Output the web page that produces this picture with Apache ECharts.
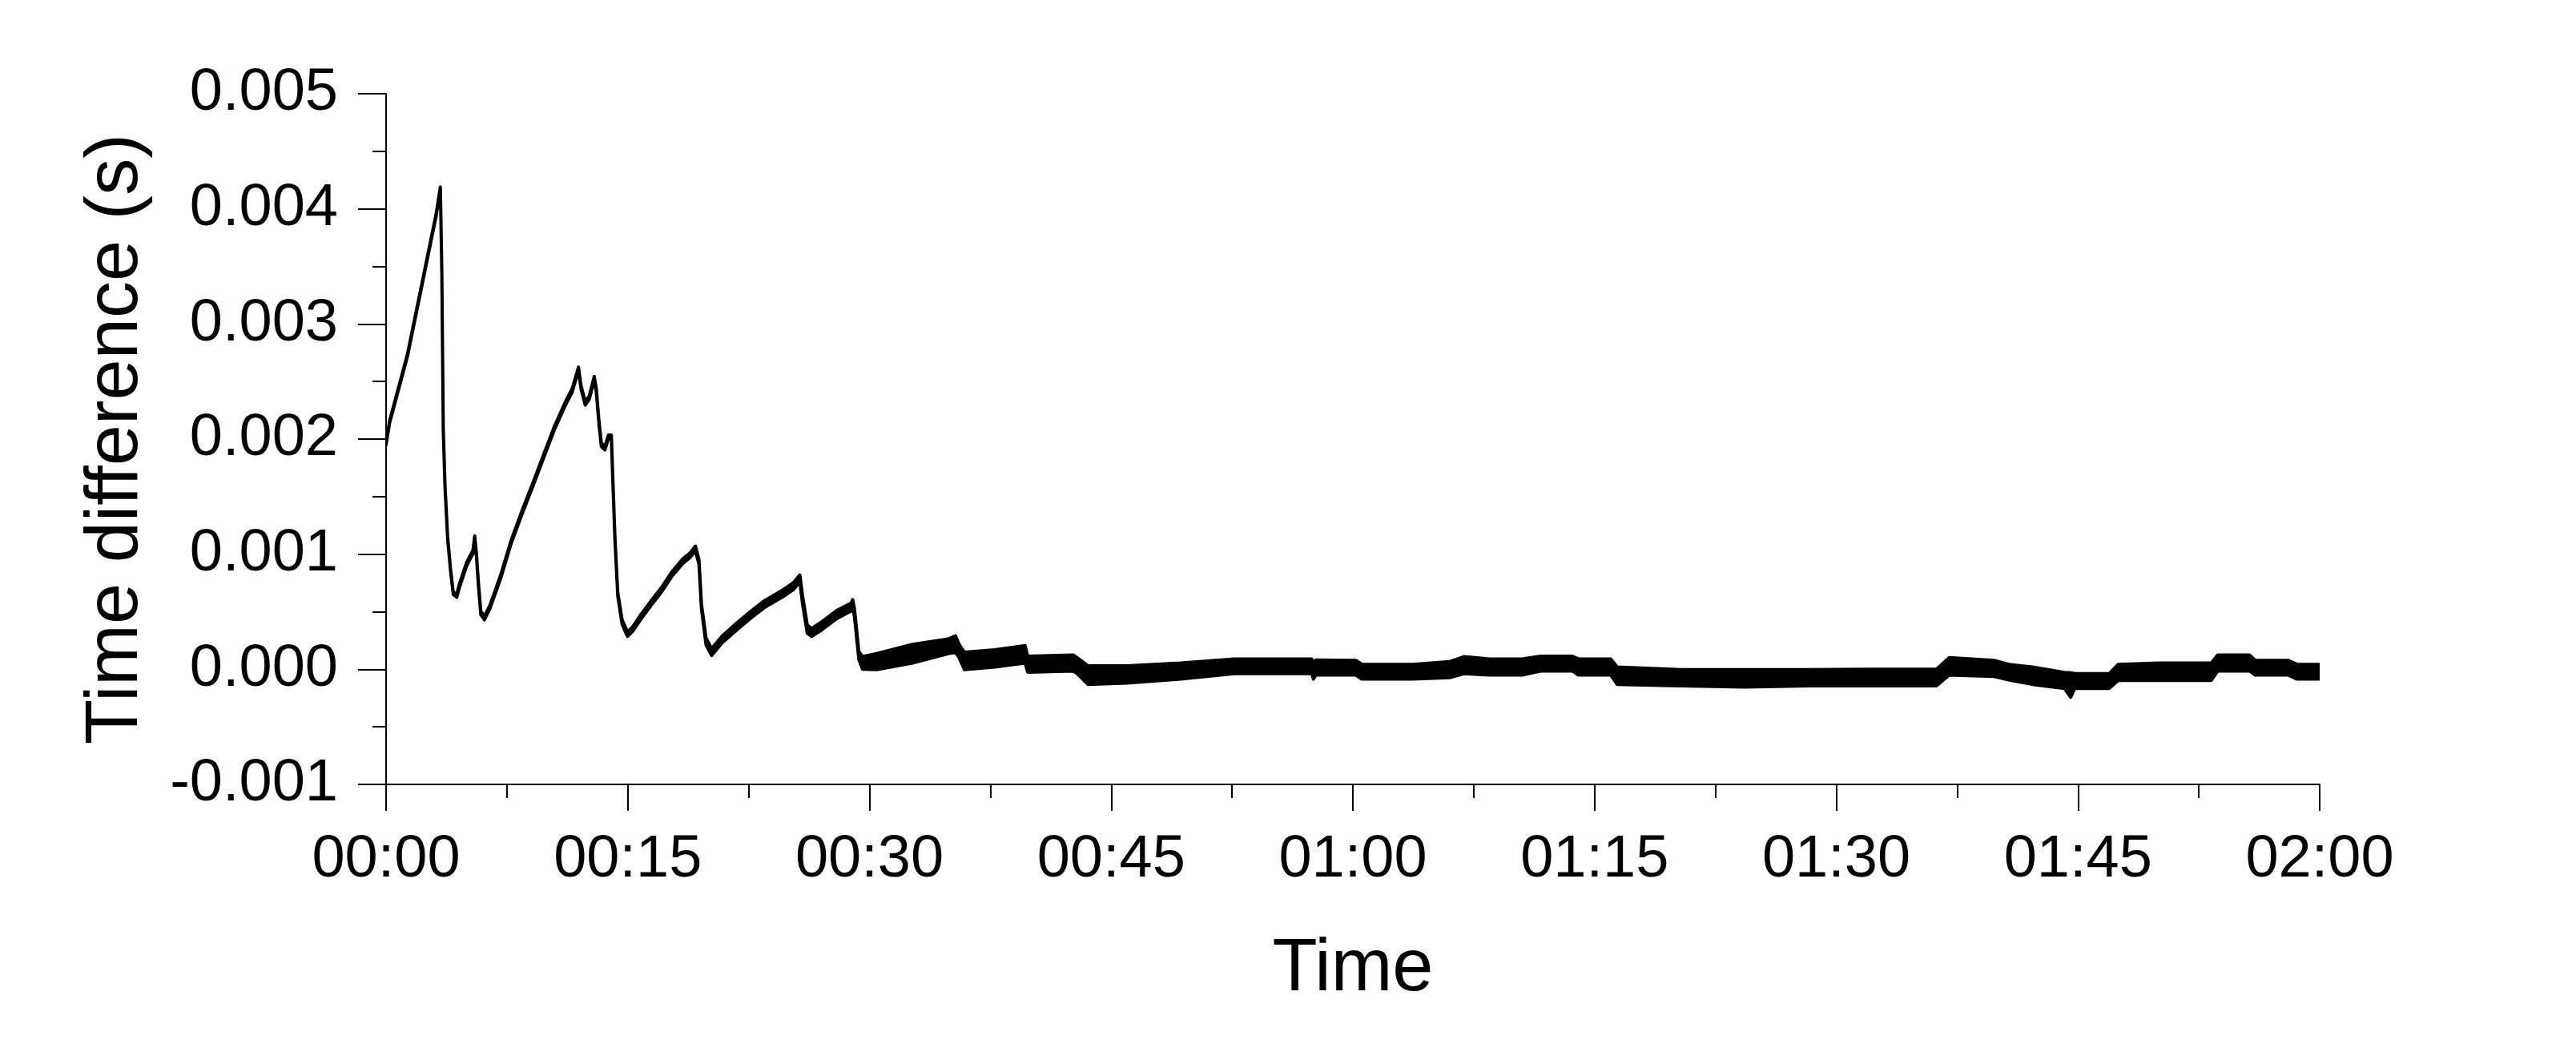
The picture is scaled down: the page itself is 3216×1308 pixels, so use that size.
<!DOCTYPE html>
<html>
<head>
<meta charset="utf-8">
<script src="https://cdn.jsdelivr.net/npm/echarts@6/dist/echarts.min.js"></script>
<style>
html,body{margin:0;padding:0;background:#fff;}
#chart{width:3216px;height:1308px;}
</style>
</head>
<body>
<div id="chart"></div>
<script>
// Time in minutes since start
const timeMin = [
  0.00, 0.22, 1.33, 2.44, 3.11, 3.37, 3.46, 3.55, 3.66, 3.82, 4.00, 4.17, 4.39, 4.55, 4.99, 5.39, 5.50, 5.61, 5.73, 5.88,
  6.10, 6.44, 7.10, 7.77, 8.43, 9.10, 9.76, 10.43, 11.10, 11.54, 11.94, 12.10, 12.36, 12.61, 12.92, 13.05, 13.20, 13.36, 13.58, 13.80,
  13.98, 14.09, 14.20, 14.38, 14.65, 14.98, 15.31, 15.76, 16.42, 17.09, 17.75, 18.42, 18.86, 19.20, 19.42, 19.57, 19.86, 20.20, 20.86, 21.75,
  22.64, 23.52, 24.63, 25.30, 25.68, 25.85, 26.14, 26.41, 27.07, 27.96, 28.85, 28.96, 29.07, 29.34, 29.57, 30.45, 32.67, 34.89, 35.34, 35.56,
  35.89, 37.78, 39.66, 39.82, 42.66, 42.99, 43.55, 45.99, 49.32, 52.64, 57.45, 57.55, 57.70, 60.19, 60.55, 63.72, 66.00, 66.89, 68.47, 70.50,
  71.65, 73.63, 74.00, 76.01, 76.40, 80.37, 84.33, 88.29, 92.26, 96.22, 97.01, 99.79, 100.80, 102.17, 104.15, 104.55, 104.80, 106.93, 107.50, 110.09,
  113.27, 113.67, 115.65, 116.00, 118.03, 118.60, 120.00
];
// Lower edge of the trace (s)
const lowerEdge = [
  0.00195, 0.00214, 0.00272, 0.00348, 0.00394, 0.00417, 0.00344, 0.00207, 0.00157, 0.001135, 0.000855, 0.00065, 0.000625, 0.00071, 0.000895, 0.001005, 0.00113, 0.000975, 0.000725, 0.000475,
  0.00043, 0.000525, 0.000785, 0.001095, 0.001345, 0.001585, 0.00183, 0.002075, 0.002285, 0.002405, 0.002595, 0.002435, 0.002295, 0.002345, 0.002515, 0.002405, 0.002145, 0.001935, 0.001905, 0.002005,
  0.002005, 0.001565, 0.00113, 0.000635, 0.00039, 0.000285, 0.00033, 0.000425, 0.00055, 0.00067, 0.00081, 0.00092, 0.00097, 0.00103, 0.00091, 0.00053, 0.00021, 0.00012, 0.00023, 0.00034,
  0.000445, 0.00054, 0.00063, 0.000695, 0.00076, 0.000565, 0.000315, 0.000285, 0.000345, 0.00044, 0.000505, 0.000535, 0.000455, 0.000085, 0.0, -0.000003, 0.000054, 0.000136, 0.000148, 0.000101,
  -0.000003, 0.00002, 0.000054, -0.000026, -0.000015, -0.00005, -0.000131, -0.00012, -0.000085, -0.000038, -0.000038, -0.000085, -0.00005, -0.00005, -0.000085, -0.000085, -0.000073, -0.000038, -0.00005, -0.00005,
  -0.000015, -0.000015, -0.00005, -0.00005, -0.000131, -0.000143, -0.000154, -0.000143, -0.000143, -0.000143, -0.00005, -0.000062, -0.000096, -0.000131, -0.000166, -0.000243, -0.000166, -0.000166, -0.000096, -0.000096,
  -0.000096, -0.000015, -0.000015, -0.00005, -0.00005, -0.000085, -0.000085
];
// Upper edge of the trace (s)
const upperEdge = [
  0.00197, 0.00216, 0.00274, 0.00350, 0.00396, 0.00419, 0.00346, 0.00209, 0.00159, 0.001155, 0.000875, 0.00067, 0.000655, 0.00074, 0.000925, 0.001035, 0.00116, 0.001005, 0.000755, 0.000505,
  0.00046, 0.000555, 0.000815, 0.001125, 0.001375, 0.001615, 0.00186, 0.002105, 0.002315, 0.002435, 0.002625, 0.002465, 0.002325, 0.002375, 0.002545, 0.002435, 0.002175, 0.001965, 0.001935, 0.002035,
  0.002035, 0.001595, 0.00116, 0.000665, 0.00043, 0.000325, 0.00037, 0.000465, 0.00059, 0.00071, 0.00085, 0.00096, 0.00101, 0.00107, 0.00095, 0.00057, 0.00027, 0.00018, 0.00029, 0.0004,
  0.000505, 0.0006, 0.00069, 0.000755, 0.00082, 0.000635, 0.000385, 0.000355, 0.000415, 0.00051, 0.000575, 0.000605, 0.000525, 0.000155, 0.00011, 0.000136, 0.000217, 0.000263, 0.000291, 0.000217,
  0.000148, 0.00017, 0.000206, 0.000113, 0.000124, 0.00009, 0.000031, 0.000031, 0.000054, 0.000089, 0.000089, 0.00006, 0.00008, 0.000078, 0.000043, 0.000043, 0.000066, 0.00011, 0.00009, 0.00009,
  0.000113, 0.000113, 0.00009, 0.00009, 0.00002, -0.000003, -0.000003, -0.000003, 0.0, 0.0, 0.000101, 0.000078, 0.00004, 0.00002, -0.000027, -0.00003, -0.000038, -0.000038, 0.000043, 0.000055,
  0.000055, 0.000125, 0.000125, 0.000078, 0.000078, 0.000043, 0.000043
];
const xTickMinutes = [0, 15, 30, 45, 60, 75, 90, 105, 120];
const yTickValues = [-0.001, 0.000, 0.001, 0.002, 0.003, 0.004, 0.005];

const FONT = "'Liberation Sans', Arial, sans-serif";
const chart = echarts.init(document.getElementById('chart'), null, {renderer: 'canvas'});

function fmtTime(v) {
  const h = Math.floor(v / 60), m = Math.round(v % 60);
  return (h < 10 ? '0' : '') + h + ':' + (m < 10 ? '0' : '') + m;
}

// band data: each item = [time, lower, upper]
const bandData = timeMin.map((t, i) => [t, lowerEdge[i], upperEdge[i]]);

function renderBand(params, api) {
  if (params.dataIndex !== 0) return null;
  const pts = [];
  for (let i = 0; i < bandData.length; i++) pts.push(api.coord([bandData[i][0], bandData[i][2]]));
  for (let i = bandData.length - 1; i >= 0; i--) pts.push(api.coord([bandData[i][0], bandData[i][1]]));
  return {
    type: 'polygon',
    shape: {points: pts},
    style: {fill: '#000', stroke: '#000', lineWidth: 4, lineJoin: 'round'}
  };
}

chart.setOption({
  animation: false,
  backgroundColor: '#ffffff',
  grid: {left: 482, right: 320, top: 117, bottom: 329, containLabel: false, outerBoundsMode: 'none'},
  xAxis: {
    type: 'value',
    min: xTickMinutes[0], max: xTickMinutes[xTickMinutes.length - 1], interval: 15,
    name: 'Time', nameLocation: 'middle', nameGap: 186,
    nameTextStyle: {fontSize: 92, fontFamily: FONT, color: '#000'},
    axisLine: {show: true, onZero: false, lineStyle: {color: '#000', width: 2}},
    axisTick: {show: true, inside: false, length: 33, lineStyle: {color: '#000', width: 2}},
    minorTick: {show: true, splitNumber: 2, length: 17, lineStyle: {color: '#000', width: 2}},
    splitLine: {show: false}, minorSplitLine: {show: false},
    axisLabel: {fontSize: 74, fontFamily: FONT, color: '#000', margin: 58, formatter: fmtTime}
  },
  yAxis: {
    type: 'value',
    min: yTickValues[0], max: yTickValues[yTickValues.length - 1], interval: 0.001,
    name: 'Time difference (s)', nameLocation: 'middle', nameGap: 290,
    nameTextStyle: {fontSize: 92, fontFamily: FONT, color: '#000'},
    axisLine: {show: true, onZero: false, lineStyle: {color: '#000', width: 2}},
    axisTick: {show: true, inside: false, length: 35, lineStyle: {color: '#000', width: 2}},
    minorTick: {show: true, splitNumber: 2, length: 17, lineStyle: {color: '#000', width: 2}},
    splitLine: {show: false}, minorSplitLine: {show: false},
    axisLabel: {fontSize: 74, fontFamily: FONT, color: '#000', margin: 60,
      formatter: v => (Math.abs(v) < 1e-12 ? 0 : v).toFixed(3)}
  },
  series: [
    {
      type: 'custom',
      name: 'Time difference',
      coordinateSystem: 'cartesian2d',
      data: bandData,
      encode: {x: 0, y: [1, 2]},
      renderItem: renderBand,
      clip: true
    }
  ]
});
</script>
</body>
</html>
